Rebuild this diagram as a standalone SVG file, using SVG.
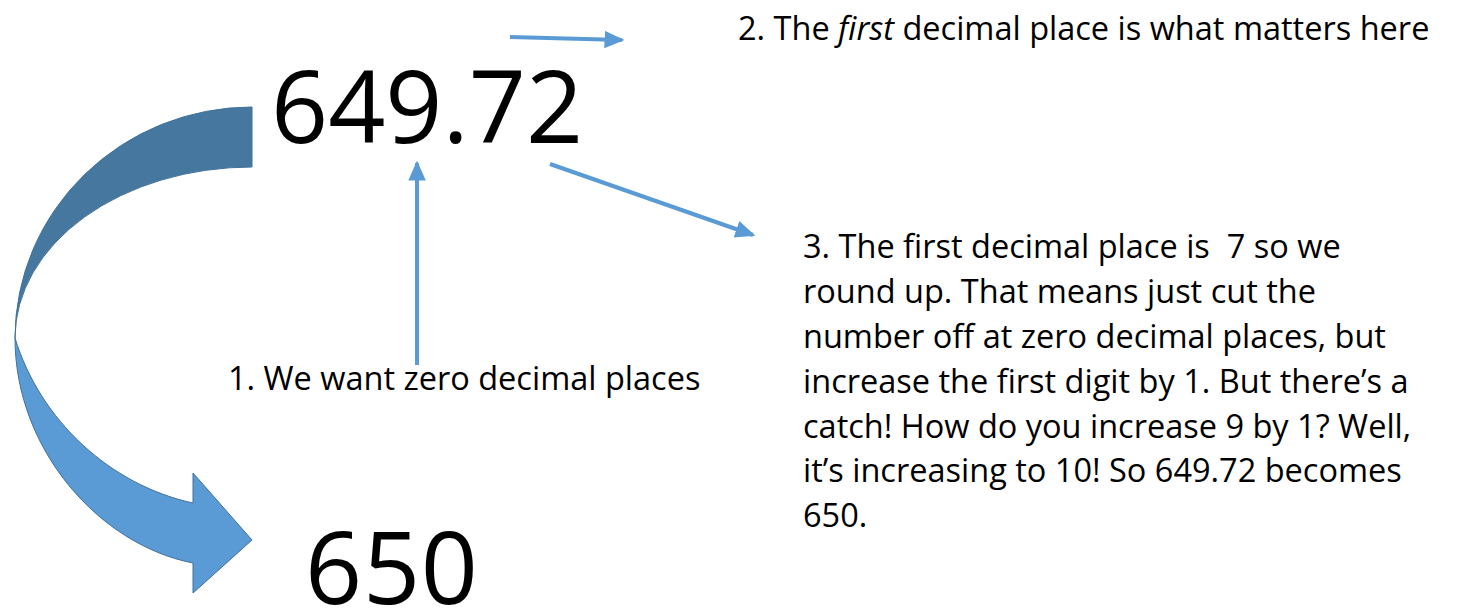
<svg xmlns="http://www.w3.org/2000/svg" width="1457" height="608" viewBox="0 0 1457 608">
<defs>
<marker id="ah" markerUnits="userSpaceOnUse" markerWidth="20" markerHeight="20" viewBox="0 0 16 14" refX="14" refY="7" orient="auto">
<path d="M0,0 L16,7 L0,14 Z" fill="#5b9bd5"/>
</marker>
<style>
.t{font-family:"Open Sans","Liberation Sans",sans-serif;fill:#000}
.big{font-size:100px}
.lab{font-size:32.5px}
.con{stroke:#5b9bd5;stroke-width:4;fill:none;marker-end:url(#ah)}
</style>
</defs>
<rect width="1457" height="608" fill="#fff"/>
<g id="curved-arrow" stroke="#41719c" stroke-width="1">
<path d="M252,107 L252,167 A237,171 0 0 0 15,338 A237,231 0 0 1 252,107 Z" fill="#46789f"/>
<path d="M15,338 C15,450 100,545 193,563 L193,593 L252,540 L193,473 L193,503 C110,485 40,420 15,338 Z" fill="#5b9bd5"/>
</g>
<g id="n-649"><text class="t big" x="271" y="143">649.72</text></g>
<g id="n-650"><text class="t big" x="305" y="604" textLength="173">650</text></g>
<g id="n-step2"><text class="t lab" x="738" y="40">2. The <tspan font-style="italic">first</tspan> decimal place is what matters here</text></g>
<g id="n-step1"><text class="t lab" x="228" y="390">1. We want zero decimal places</text></g>
<g id="n-step3"><text class="t lab" x="803" y="258" xml:space="preserve">3. The first decimal place is  7 so we</text>
<text class="t lab" x="803" y="303">round up. That means just cut the</text>
<text class="t lab" x="803" y="348">number off at zero decimal places, but</text>
<text class="t lab" x="803" y="393">increase the first digit by 1. But there’s a</text>
<text class="t lab" x="803" y="438">catch! How do you increase 9 by 1? Well,</text>
<text class="t lab" x="803" y="482">it’s increasing to 10! So 649.72 becomes</text>
<text class="t lab" x="803" y="527">650.</text></g>
<g id="connectors">
<line class="con" x1="510" y1="37" x2="622" y2="40"/>
<line class="con" x1="417" y1="365" x2="417" y2="163"/>
<line class="con" x1="550" y1="164" x2="753" y2="235"/>
</g>
</svg>
